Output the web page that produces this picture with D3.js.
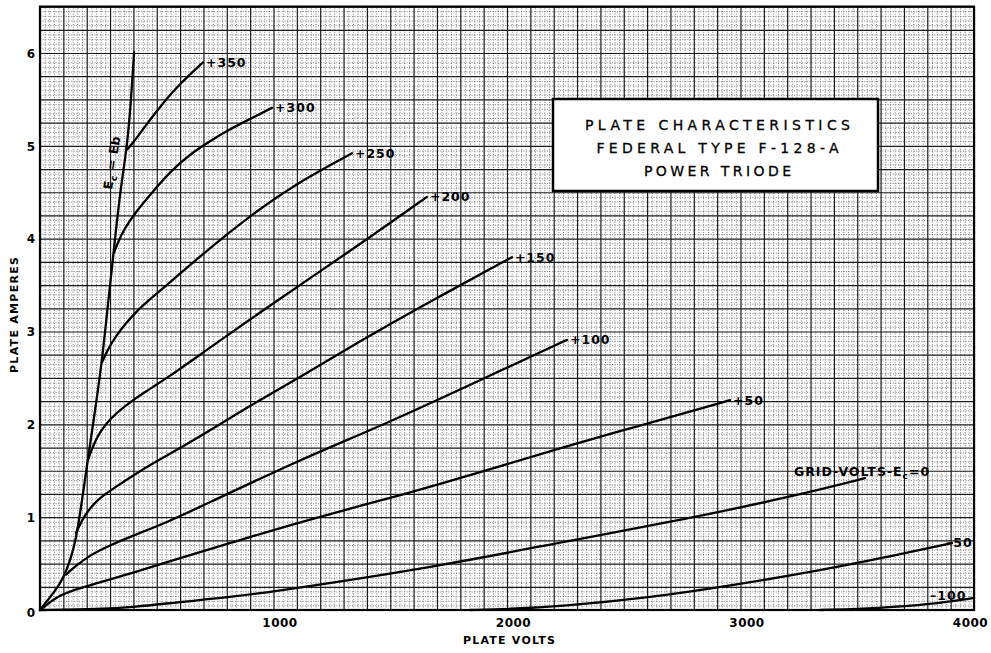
<!DOCTYPE html>
<html><head><meta charset="utf-8">
<script src="https://cdn.jsdelivr.net/npm/d3@7"></script>
<style>
html,body{margin:0;padding:0;background:#fff;}
svg{display:block;}
text{font-family:"DejaVu Sans",sans-serif;fill:#000;}
</style></head><body>
<svg id="chart" width="991" height="653"></svg>
<script>
// ---- data (plate volts, plate amperes) ----
const xTickValues = [1000, 2000, 3000, 4000];
const xTickLabels = ["1000", "2000", "3000", "4000"];
const yTickValues = [0, 1, 2, 3, 4, 5, 6];
const yTickLabels = ["0", "1", "2", "3", "4", "5", "6"];
const gridVoltLabels = ["+350", "+300", "+250", "+200", "+150", "+100", "+50", "0", "-50", "-100"];

const curveEcEb = [[0,0],[34,0.11],[69,0.22],[99,0.34],[128,0.52],[154,0.75],[180,1.18],[206,1.64],[236,2.15],[266,2.69],[291,3.29],[313,3.80],[342,4.49],[373,4.99],[390,5.49],[403,6.01]];
const curveP350 = [[373,4.96],[398,5.03],[441,5.18],[501,5.38],[570,5.59],[642,5.77],[698,5.90]];
const curveP300 = [[317,3.85],[334,3.96],[355,4.08],[407,4.28],[484,4.51],[557,4.72],[642,4.91],[728,5.05],[784,5.14],[899,5.29],[994,5.41]];
const curveP250 = [[266,2.67],[291,2.81],[325,2.95],[368,3.09],[415,3.22],[463,3.33],[557,3.53],[685,3.81],[899,4.25],[1114,4.62],[1336,4.92]];
const curveP200 = [[206,1.62],[227,1.77],[257,1.92],[300,2.06],[364,2.20],[450,2.35],[557,2.52],[685,2.75],[972,3.26],[1400,3.99],[1657,4.45]];
const curveP150 = [[154,0.83],[180,0.97],[214,1.10],[257,1.21],[321,1.32],[428,1.50],[548,1.67],[685,1.87],[899,2.20],[1114,2.51],[1400,2.94],[1683,3.34],[2021,3.80]];
const curveP100 = [[111,0.38],[150,0.47],[214,0.59],[300,0.70],[428,0.83],[548,0.95],[685,1.11],[1114,1.62],[1486,2.01],[1914,2.51],[2257,2.91]];
const curveP50  = [[0,0],[26,0.05],[77,0.15],[150,0.22],[218,0.27],[385,0.39],[548,0.52],[814,0.72],[1114,0.95],[1580,1.26],[1897,1.49],[2231,1.75],[2604,2.01],[2955,2.26]];
const curveZero = [[0,0],[257,0.01],[398,0.03],[612,0.09],[827,0.14],[1114,0.24],[1726,0.48],[2231,0.73],[2788,0.99],[3216,1.22],[3533,1.42]];
const curveM50  = [[1842,0],[2009,0.01],[2231,0.04],[2604,0.13],[2977,0.27],[3349,0.43],[3627,0.57],[3906,0.72]];
const curveM100 = [[3341,0],[3598,0.02],[3812,0.06],[4000,0.13]];

const titleLines = ["PLATE CHARACTERISTICS", "FEDERAL TYPE F-128-A", "POWER TRIODE"];

// ---- layout ----
const svg = d3.select("#chart");
const X0 = 40, X1 = 974, Y0 = 610, Y1 = 6.6;
const x = d3.scaleLinear().domain([0, 4000]).range([X0, X1]);
const y = d3.scaleLinear().domain([0, 6.5]).range([Y0, Y1]);
const W = X1 - X0, H = Y0 - Y1;

// minor dotted grid
const xMinor = d3.range(0, 4001, 20).filter(v => v % 100 !== 0);
const yMinor = d3.range(0, 131).map(i => i * 0.05).filter((v, i) => i % 5 !== 0);
const xMajor = d3.range(0, 4001, 100);
const yMajor = d3.range(0, 27).map(i => i * 0.25);

const gMinX = svg.append("g").attr("transform", `translate(0,${Y0})`)
  .call(d3.axisBottom(x).tickValues(xMinor).tickSize(-H).tickFormat(""));
const gMinY = svg.append("g").attr("transform", `translate(${X0},0)`)
  .call(d3.axisLeft(y).tickValues(yMinor).tickSize(-W).tickFormat(""));
[gMinX, gMinY].forEach(g => {
  g.select(".domain").remove();
  g.selectAll("line").attr("stroke", "#5a5a5a").attr("stroke-width", 0.8).attr("stroke-dasharray", "1,1.6");
});

const gMajX = svg.append("g").attr("transform", `translate(0,${Y0})`)
  .call(d3.axisBottom(x).tickValues(xMajor).tickSize(-H).tickFormat(""));
const gMajY = svg.append("g").attr("transform", `translate(${X0},0)`)
  .call(d3.axisLeft(y).tickValues(yMajor).tickSize(-W).tickFormat(""));
[gMajX, gMajY].forEach(g => {
  g.select(".domain").remove();
  g.selectAll("line").attr("stroke", "#1a1a1a").attr("stroke-width", 1.2);
});

// border
svg.append("rect").attr("x", X0).attr("y", Y1).attr("width", W).attr("height", H)
  .attr("fill", "none").attr("stroke", "#000").attr("stroke-width", 2.2);

// tick labels
const ax = svg.append("g").attr("transform", `translate(0,${Y0})`)
  .call(d3.axisBottom(x).tickValues(xTickValues).tickSize(0).tickPadding(6)
    .tickFormat((d, i) => xTickLabels[i]));
ax.select(".domain").remove();
ax.selectAll("text").attr("font-size", 12).attr("font-weight", "bold")
  .attr("font-family", "DejaVu Sans").attr("dx", (d, i) => i === 3 ? -4 : 6).attr("dy", "0.9em")
  .attr("letter-spacing", 0.5);
const ay = svg.append("g").attr("transform", `translate(${X0},0)`)
  .call(d3.axisLeft(y).tickValues(yTickValues).tickSize(0).tickPadding(5)
    .tickFormat((d, i) => yTickLabels[i]));
ay.select(".domain").remove();
ay.selectAll("text").attr("font-size", 12).attr("font-weight", "bold")
  .attr("font-family", "DejaVu Sans").attr("dy", (d, i) => i === 0 ? "0.55em" : "0.35em");

// axis titles
svg.append("text").attr("x", 509).attr("y", 644).attr("text-anchor", "middle")
  .attr("font-size", 11).attr("font-weight", "bold").attr("textLength", 92).attr("lengthAdjust", "spacing")
  .text("PLATE VOLTS");
svg.append("text").attr("transform", "translate(18,315) rotate(-90)").attr("text-anchor", "middle")
  .attr("font-size", 11).attr("font-weight", "bold").attr("textLength", 116).attr("lengthAdjust", "spacing")
  .text("PLATE AMPERES");

// curves
const line = d3.line().x(d => x(d[0])).y(d => y(d[1])).curve(d3.curveBasis);
const curves = [curveP350, curveP300, curveP250, curveP200, curveP150, curveP100, curveP50, curveZero, curveM50, curveM100];
const gc = svg.append("g");
curves.concat([curveEcEb]).forEach(c => {
  gc.append("path").attr("d", line(c)).attr("fill", "none").attr("stroke", "#000")
    .attr("stroke-width", 2.3).attr("stroke-linecap", "round").attr("stroke-linejoin", "round");
});

// curve labels
const gl = svg.append("g").attr("font-size", 12.5).attr("font-weight", "bold").attr("letter-spacing", 1);
curves.forEach((c, i) => {
  const lab = gridVoltLabels[i];
  const end = c[c.length - 1];
  let px = x(end[0]) + 3, py = y(end[1]) + 4.5;
  if (lab === "0") {
    const t = gl.append("text").attr("x", px - 74).attr("y", py - 7);
    t.append("tspan").text("GRID-VOLTS-E");
    t.append("tspan").attr("font-size", 9).attr("dy", 3).text("c");
    t.append("tspan").attr("dy", -3).text("=" + lab);
    return;
  }
  if (lab === "-50") { px = x(end[0]) - 6; py = y(end[1]) + 4; }
  if (lab === "-100") { px = x(end[0]) - 44; py = y(end[1]) + 2; }
  gl.append("text").attr("x", px).attr("y", py).text(lab.replace("-", "\u2013"));
});

// Ec = Eb label
const eb = svg.append("text").attr("transform", "translate(112,190) rotate(-81)")
  .attr("font-size", 12.5).attr("font-weight", "bold").attr("letter-spacing", 0.5);
eb.append("tspan").text("E");
eb.append("tspan").attr("font-size", 9).attr("dy", 3).text("c");
eb.append("tspan").attr("dy", -3).text(" = E");
eb.append("tspan").text("b");

// title box
const bx = 553, by = 99, bw = 325, bh = 92;
svg.append("rect").attr("x", bx).attr("y", by).attr("width", bw).attr("height", bh)
  .attr("fill", "#fff").attr("stroke", "#000").attr("stroke-width", 2.5);
const tl = [265, 242, 147];
const tb = [130, 153, 176];
titleLines.forEach((s, i) => {
  svg.append("text").attr("x", bx + bw / 2 + 2).attr("y", tb[i]).attr("text-anchor", "middle")
    .attr("font-size", 14).attr("textLength", tl[i]).attr("lengthAdjust", "spacing")
    .attr("stroke", "#000").attr("stroke-width", 0.3).text(s);
});
</script>
</body></html>
